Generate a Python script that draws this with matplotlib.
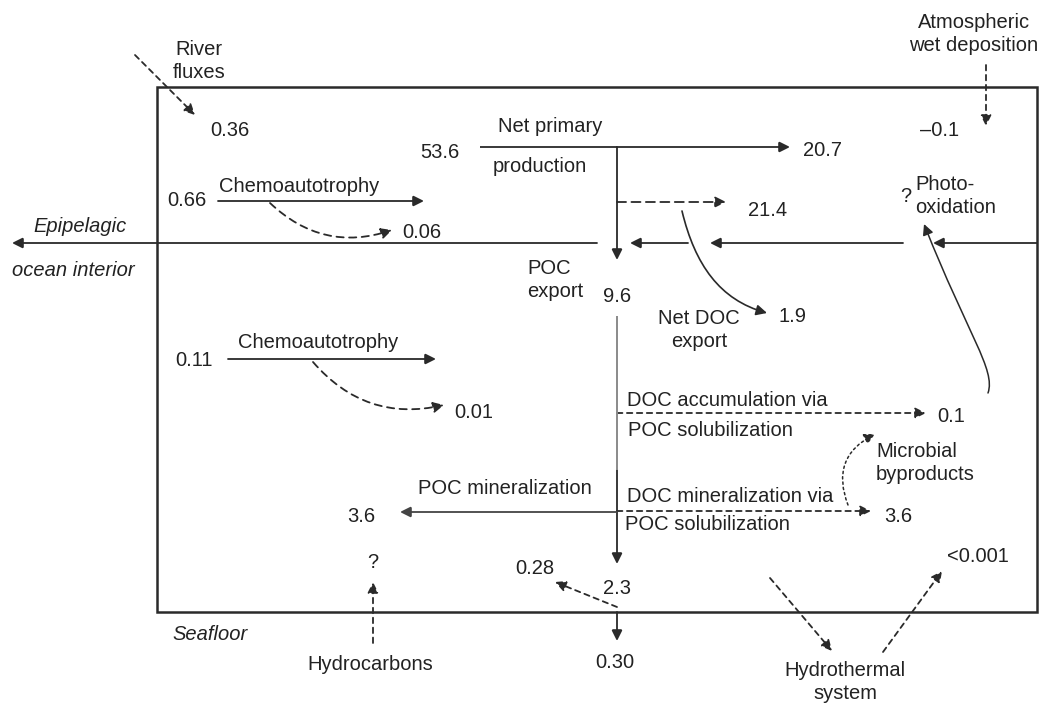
import matplotlib
matplotlib.use("Agg")
import matplotlib.pyplot as plt
from matplotlib.patches import FancyArrowPatch, Rectangle
from matplotlib.path import Path

plt.rcParams['font.family'] = ['Liberation Sans', 'DejaVu Sans']

# ---- data: flux values (Pg C / yr) and labels ----
flux_values = ["0.36", "53.6", "20.7", "21.4", "1.9", "0.66", "0.06", "\u20130.1",
               "9.6", "0.11", "0.01", "0.1", "3.6", "3.6", "0.28", "2.3", "0.30",
               "<0.001", "?", "?"]
flux_pos = [(210, 130, 'left'), (420, 153, 'left'), (803, 150, 'left'), (748, 211, 'left'),
            (779, 316, 'left'), (167, 201, 'left'), (402, 233, 'left'), (920, 130, 'left'),
            (617, 297, 'center'), (175, 360, 'left'), (454, 413, 'left'), (937, 417, 'left'),
            (884, 516, 'left'), (347, 517, 'left'), (515, 568, 'left'), (617, 588, 'center'),
            (615, 663, 'center'), (947, 557, 'left'), (906, 197, 'center'), (373, 562, 'center')]

process_labels = ["River\nfluxes", "Atmospheric\nwet deposition", "Net primary", "production",
                  "Chemoautotrophy", "Chemoautotrophy", "POC\nexport", "Net DOC\nexport",
                  "Photo-\noxidation", "DOC accumulation via", "POC solubilization",
                  "Microbial\nbyproducts", "POC mineralization", "DOC mineralization via",
                  "POC solubilization", "Hydrocarbons", "Hydrothermal\nsystem"]
process_pos = [(199, 61, 'center'), (974, 34, 'center'), (498, 127, 'left'), (493, 167, 'left'),
               (219, 186, 'left'), (238, 343, 'left'), (527, 280, 'left'), (699, 330, 'center'),
               (915, 196, 'left'), (627, 401, 'left'), (628, 430, 'left'),
               (876, 463, 'left'), (418, 488, 'left'), (627, 497, 'left'),
               (625, 525, 'left'), (370, 665, 'center'), (845, 682, 'center')]

zone_labels = ["Epipelagic", "ocean interior", "Seafloor"]
zone_pos = [(33, 226, 'left'), (12, 270, 'left'), (172, 635, 'left')]

TXT = '#222222'
LN = '#2a2a2a'
FS = 14.5

fig = plt.figure(figsize=(10.54, 7.07), dpi=100)
ax = fig.add_axes([0, 0, 1, 1])
ax.set_xlim(0, 1054)
ax.set_ylim(707, 0)
ax.axis('off')

# box
ax.add_patch(Rectangle((157, 87), 1037 - 157, 612 - 87, fill=False, lw=1.8, ec=LN))


def arrow(p0, p1, ls='-', rad=0.0, color=LN, lw=1.3, head=True):
    style = '-|>' if head else '-'
    a = FancyArrowPatch(p0, p1, arrowstyle=style, mutation_scale=16, lw=lw,
                        color=color, linestyle=ls, shrinkA=0, shrinkB=0,
                        connectionstyle=f"arc3,rad={rad}", joinstyle='miter')
    ax.add_patch(a)


def bezier_arrow(pts, ls='-', color=LN, lw=1.2):
    path = Path(pts, [Path.MOVETO, Path.CURVE4, Path.CURVE4, Path.CURVE4])
    a = FancyArrowPatch(path=path, arrowstyle='-|>', mutation_scale=16, lw=lw,
                        color=color, linestyle=ls, shrinkA=0, shrinkB=0)
    ax.add_patch(a)


def line(xs, ys, ls='-', color=LN, lw=1.3):
    ax.plot(xs, ys, ls=ls, color=color, lw=lw, solid_capstyle='butt')


# boundary line epipelagic / ocean interior with arrows
arrow((597, 243), (12, 243))
arrow((688, 243), (630, 243))
arrow((903, 243), (710, 243))
arrow((1037, 243), (933, 243))

# river fluxes
arrow((135, 55), (195, 115), ls=(0, (3, 2.5)))
# atmospheric deposition
arrow((986, 65), (986, 126), ls=(0, (3, 2.5)))

# net primary production
line([480, 617], [147, 147])
arrow((617, 147), (790, 147))
arrow((617, 147), (617, 260))
arrow((617, 202), (726, 202), ls=(0, (5, 3)))
bezier_arrow([(682, 211), (695, 265), (720, 300), (767, 313)])

# chemoautotrophy top
arrow((218, 201), (424, 201))
arrow((270, 203), (392, 230), ls=(0, (4, 3)), rad=0.3)

# chemoautotrophy bottom
arrow((228, 359), (436, 359))
arrow((313, 362), (444, 405), ls=(0, (4, 3)), rad=0.3)

# POC export column
line([617, 617], [316, 470], color='#8a8a8a', lw=1.4)
arrow((617, 470), (617, 564))

# DOC accumulation
arrow((617, 413), (926, 413), ls=(0, (3, 2.5)))
# photo-oxidation curve
bezier_arrow([(988, 393), (996, 370), (968, 335), (924, 224)], lw=1.1)
# DOC mineralization
arrow((617, 511), (871, 511), ls=(0, (3, 2.5)))
# microbial byproducts (dotted)
arrow((848, 505), (875, 434), ls=(0, (1.5, 2)), rad=-0.45, lw=1.1)
# POC mineralization
arrow((617, 512), (400, 512), color='#444444')

# seafloor
arrow((617, 607), (555, 582), ls=(0, (3, 2.5)))
arrow((617, 612), (617, 641))
arrow((373, 643), (373, 582), ls=(0, (3, 2.5)))
arrow((770, 578), (832, 651), ls=(0, (3, 2.5)))
arrow((883, 652), (942, 571), ls=(0, (3, 2.5)))

for v, (x, y, ha) in zip(flux_values, flux_pos):
    ax.text(x, y, v, fontsize=FS, color=TXT, ha=ha, va='center')
for t, (x, y, ha) in zip(process_labels, process_pos):
    ax.text(x, y, t, fontsize=FS, color=TXT, ha=ha, va='center', linespacing=1.25,
            multialignment='center' if '\n' in t and ha == 'center' else ha)
for t, (x, y, ha) in zip(zone_labels, zone_pos):
    ax.text(x, y, t, fontsize=FS, color=TXT, ha=ha, va='center', style='italic')

fig.savefig('out.png', dpi=100)
